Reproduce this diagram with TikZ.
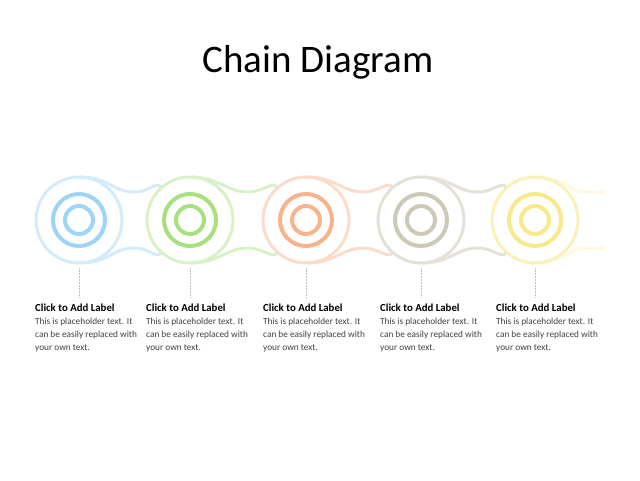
\documentclass[tikz,border=0pt]{standalone}
\usepackage{fontspec}
\setmainfont{Carlito}
\definecolor{oA}{HTML}{D3EBFA}\definecolor{iA}{HTML}{9ED4F5}
\definecolor{oB}{HTML}{D6F2C6}\definecolor{iB}{HTML}{A8E07E}
\definecolor{oC}{HTML}{FBDCCB}\definecolor{iC}{HTML}{F7B48A}
\definecolor{oD}{HTML}{E3E1D8}\definecolor{iD}{HTML}{CCC9B6}
\definecolor{oE}{HTML}{FBF1B8}\definecolor{iE}{HTML}{F9E98A}
\definecolor{oF}{HTML}{FDF8E0}
\begin{document}
\begin{tikzpicture}[x=1pt,y=-1pt,
  outer/.style={line width=3pt},
  ring/.style={line width=4pt},
  guide/.style={densely dotted,gray!50,line width=0.5pt},
  lbl/.style={anchor=north west,font=\fontsize{10.8}{13}\selectfont\bfseries,inner sep=0pt},
  body/.style={anchor=north west,font=\fontsize{9.3}{13}\selectfont,text=black!75,inner sep=0pt,align=left}]
\useasboundingbox (0,0) rectangle (640,480);
\node (title) at (318,62) {\fontsize{39}{44}\selectfont Chain Diagram};
\foreach \cx/\nx/\o/\i/\tx [count=\k] in {79/190/oA/iA/35,190/306/oB/iB/146,306/421/oC/iC/263,421/535/oD/iD/380,535/640/oE/iE/496}{
  \pgfmathsetmacro{\mx}{(\cx+\nx)/2}
  \ifnum\k<5
  \draw[outer,\o] (\cx,177) .. controls (\cx+30,177) and (\mx-22,192) .. (\mx,192) .. controls (\mx+16,192) and (\nx-34,180) .. (\nx-28,188);
  \draw[outer,\o] (\cx,263) .. controls (\cx+30,263) and (\mx-22,248) .. (\mx,248) .. controls (\mx+16,248) and (\nx-34,260) .. (\nx-28,252);
  \else
  \draw[outer,oF] (\cx,177) .. controls (\cx+30,177) and (\mx-22,192) .. (\mx,192) -- (605,192);
  \draw[outer,oF] (\cx,263) .. controls (\cx+30,263) and (\mx-22,248) .. (\mx,248) -- (605,248);
  \fi
  \draw[outer,\o] (\cx,220) circle[radius=43];
  \draw[ring,\i] (\cx,220) circle[radius=26];
  \draw[ring,\i] (\cx,220) circle[radius=14];
  \coordinate (g\k a) at (\cx,268);
  \coordinate (g\k b) at (\cx,298);
  \draw[guide] (g\k a) -- (g\k b);
  \node[lbl] (l\k) at (\tx,304) {Click to Add Label};
  \node[body] (b\k) at (\tx,318) {This is placeholder text. It\\can be easily replaced with\\your own text.};
}
\end{tikzpicture}
\end{document}
